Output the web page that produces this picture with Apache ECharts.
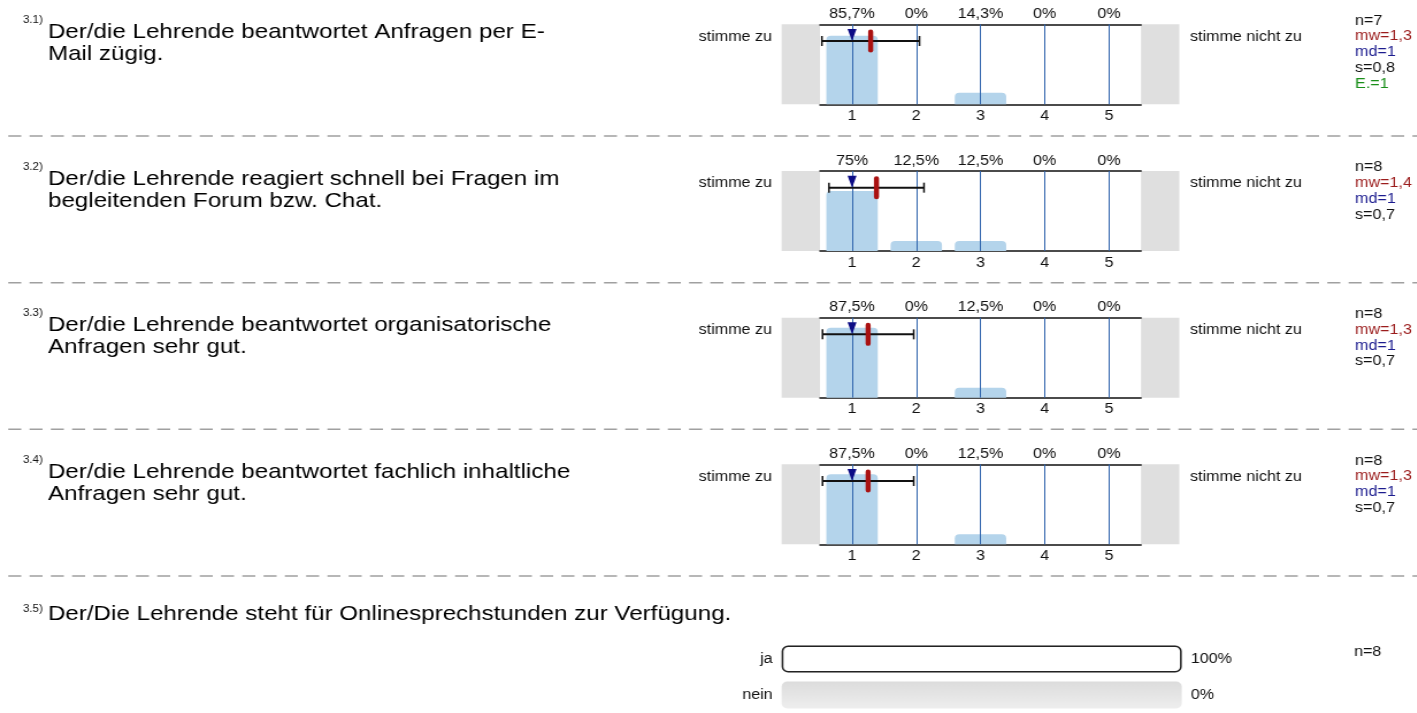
<!DOCTYPE html>
<html>
<head>
<meta charset="utf-8">
<script src="https://cdn.jsdelivr.net/npm/echarts@6/dist/echarts.min.js"></script>
<style>
  html, body { margin: 0; padding: 0; background: #fff; overflow: hidden; }
  /* the reference is a horizontally stretched report page */
  #chart { width: 1232px; height: 713px; transform: scaleX(1.15); transform-origin: 0 0; }
</style>
</head>
<body>
<div id="chart"></div>
<script>
const questionNumbers = ["3.1)", "3.2)", "3.3)", "3.4)"];
const questions = [
  "Der/die Lehrende beantwortet Anfragen per E-\nMail zügig.",
  "Der/die Lehrende reagiert schnell bei Fragen im\nbegleitenden Forum bzw. Chat.",
  "Der/die Lehrende beantwortet organisatorische\nAnfragen sehr gut.",
  "Der/die Lehrende beantwortet fachlich inhaltliche\nAnfragen sehr gut.",
];
const scaleTicks = ["1", "2", "3", "4", "5"];
const shares = [
  [85.7, 0, 14.3, 0, 0],
  [75, 12.5, 12.5, 0, 0],
  [87.5, 0, 12.5, 0, 0],
  [87.5, 0, 12.5, 0, 0],
];
const counts = [7, 8, 8, 8];
const means = [1.29, 1.38, 1.25, 1.25];
const medians = [1, 1, 1, 1];
const stdDevs = [0.76, 0.74, 0.71, 0.71];
const abstentions = [1, null, null, null];
const leftPole = "stimme zu";
const rightPole = "stimme nicht zu";

const ynNumber = "3.5)";
const ynQuestion = "Der/Die Lehrende steht für Onlinesprechstunden zur Verfügung.";
const ynCategories = ["ja", "nein"];
const ynShares = [100, 0];
const ynCount = 8;

const FONT = '"Liberation Sans", Arial, sans-serif';
const comma = (v) => String(v).replace(".", ",");
const pct = (v) => comma(v) + "%";

const chart = echarts.init(document.getElementById("chart"));

const rowStep = 146.67;
const gridLeft = 713;
const gridWidth = 279.2;
const boxWidth = 33.3;

const grids = [], xAxes = [], yAxes = [], series = [], graphics = [];

questions.forEach((q, i) => {
  const top = 24.3 + i * rowStep;
  grids.push({ left: gridLeft, top: top, width: gridWidth, height: 80 });
  const xb = xAxes.length;
  xAxes.push({
    type: "category", gridIndex: i, position: "bottom", data: scaleTicks,
    axisLine: { lineStyle: { color: "#111", width: 1.5 } },
    axisTick: { show: false },
    axisLabel: { color: "#111", fontSize: 14, fontFamily: FONT, margin: 5, interval: 0 },
  });
  xAxes.push({
    type: "category", gridIndex: i, position: "top", data: scaleTicks,
    axisLine: { lineStyle: { color: "#111", width: 1.5 } },
    axisTick: { show: false },
    axisLabel: {
      color: "#111", fontSize: 14, fontFamily: FONT, margin: 3, interval: 0,
      formatter: (v, idx) => pct(shares[i][idx]),
    },
  });
  const xv = xAxes.length;
  xAxes.push({ type: "value", gridIndex: i, min: 0.5, max: 5.5, show: false });
  yAxes.push({ type: "value", gridIndex: i, min: 0, max: 100, show: false });

  series.push({
    type: "bar", xAxisIndex: xb, yAxisIndex: i, data: shares[i],
    barWidth: "80%",
    itemStyle: { color: "#b4d4eb", borderRadius: [4, 4, 0, 0] },
    markLine: {
      silent: true, symbol: ["none", "none"], label: { show: false },
      lineStyle: { color: "#2f64ad", width: 1, type: "solid" },
      data: scaleTicks.map((t) => ({ xAxis: t })),
    },
  });
  series.push({
    type: "custom", xAxisIndex: xv, yAxisIndex: i, z: 5,
    data: [[means[i], stdDevs[i], medians[i]]],
    renderItem: (params, api) => {
      const cs = params.coordSys;
      const yb = cs.y + 16.7;
      const m = api.value(0), sd = api.value(1), md = api.value(2);
      const x0 = api.coord([m - sd, 0])[0];
      const x1 = api.coord([m + sd, 0])[0];
      const xm = api.coord([m, 0])[0];
      const xd = api.coord([md, 0])[0];
      return {
        type: "group",
        children: [
          { type: "line", shape: { x1: x0, y1: yb, x2: x1, y2: yb }, style: { stroke: "#111", lineWidth: 2 } },
          { type: "line", shape: { x1: x0, y1: yb - 5, x2: x0, y2: yb + 5 }, style: { stroke: "#111", lineWidth: 1.5 } },
          { type: "line", shape: { x1: x1, y1: yb - 5, x2: x1, y2: yb + 5 }, style: { stroke: "#111", lineWidth: 1.5 } },
          { type: "polygon", shape: { points: [[xd - 3.9, cs.y + 4.7], [xd + 3.9, cs.y + 4.7], [xd, yb]] }, style: { fill: "#0c0c85" } },
          { type: "rect", shape: { x: xm - 2.2, y: yb - 11.5, width: 4.4, height: 23, r: 2.2 }, style: { fill: "#aa1111" } },
        ],
      };
    },
  });

  // gray pole boxes
  graphics.push({ type: "rect", shape: { x: gridLeft - boxWidth, y: top, width: boxWidth, height: 80 }, style: { fill: "#dfdfdf" }, silent: true });
  graphics.push({ type: "rect", shape: { x: gridLeft + gridWidth, y: top, width: boxWidth, height: 80 }, style: { fill: "#dfdfdf" }, silent: true });
  graphics.push({ type: "text", style: { text: leftPole, x: 671.3, y: top + 12.5, fontSize: 14, fontFamily: FONT, fill: "#111", align: "right", verticalAlign: "middle" } });
  graphics.push({ type: "text", style: { text: rightPole, x: 1034.8, y: top + 12.5, fontSize: 14, fontFamily: FONT, fill: "#111", align: "left", verticalAlign: "middle" } });

  // question
  graphics.push({ type: "text", style: { text: questionNumbers[i], x: 20, y: top - 4, fontSize: 10, fontFamily: FONT, fill: "#111", verticalAlign: "middle" } });
  graphics.push({ type: "text", style: { text: q, x: 41.7, y: top + 19, fontSize: 21, lineHeight: 22, fontFamily: FONT, fill: "#000", verticalAlign: "middle" } });

  // statistics
  const stats = [
    ["n=" + counts[i], "#111"],
    ["mw=" + comma(means[i].toFixed(1)), "#9b1c1c"],
    ["md=" + medians[i], "#1c1c8f"],
    ["s=" + comma(stdDevs[i].toFixed(1)), "#111"],
  ];
  if (abstentions[i] != null) stats.push(["E.=" + abstentions[i], "#1a8f1a"]);
  stats.forEach((s, k) => {
    graphics.push({ type: "text", style: { text: s[0], x: 1178.3, y: top - 3.5 + k * 15.8, fontSize: 14, fontFamily: FONT, fill: s[1], verticalAlign: "middle" } });
  });

  // dashed separator
  const ly = 136 + i * rowStep;
  graphics.push({ type: "line", shape: { x1: 7.2, y1: ly, x2: 1232, y2: ly }, style: { stroke: "#a0a0a0", lineWidth: 1.5, lineDash: [11.3, 7.2] }, silent: true });
});

// yes / no question
const gi = grids.length;
grids.push({ left: 679.7, top: 641, width: 347.9, height: 86 });
const ynX = xAxes.length;
xAxes.push({ type: "value", gridIndex: gi, min: 0, max: 100, show: false });
const ynY = yAxes.length;
yAxes.push({
  type: "category", gridIndex: gi, data: ynCategories, inverse: true,
  axisLine: { show: false }, axisTick: { show: false },
  axisLabel: { color: "#111", fontSize: 14, fontFamily: FONT, margin: 7.8 },
});
yAxes.push({
  type: "category", gridIndex: gi, data: ynCategories, inverse: true, position: "right",
  axisLine: { show: false }, axisTick: { show: false },
  axisLabel: { color: "#111", fontSize: 14, fontFamily: FONT, margin: 7.8, formatter: (v, idx) => pct(ynShares[idx]) },
});
series.push({
  type: "bar", xAxisIndex: ynX, yAxisIndex: ynY, barWidth: 27,
  data: ynShares.map((v) => (v > 0 ? v : { value: v, itemStyle: { borderWidth: 0, color: "transparent" } })),
  showBackground: true,
  backgroundStyle: {
    borderRadius: 5,
    color: { type: "linear", x: 0, y: 0, x2: 0, y2: 1, colorStops: [{ offset: 0, color: "#dcdcdc" }, { offset: 1, color: "#eeeeee" }] },
  },
  itemStyle: { color: "#fff", borderColor: "#222", borderWidth: 1.5, borderRadius: 5 },
});
graphics.push({ type: "text", style: { text: ynNumber, x: 20, y: 609, fontSize: 10, fontFamily: FONT, fill: "#111", verticalAlign: "middle" } });
graphics.push({ type: "text", style: { text: ynQuestion, x: 41.7, y: 614, fontSize: 21, fontFamily: FONT, fill: "#000", verticalAlign: "middle" } });
graphics.push({ type: "text", style: { text: "n=" + ynCount, x: 1177.4, y: 652, fontSize: 14, fontFamily: FONT, fill: "#111", verticalAlign: "middle" } });

chart.setOption({
  animation: false,
  backgroundColor: "#fff",
  grid: grids,
  xAxis: xAxes,
  yAxis: yAxes,
  series: series,
  graphic: { elements: graphics },
});
</script>
</body>
</html>
